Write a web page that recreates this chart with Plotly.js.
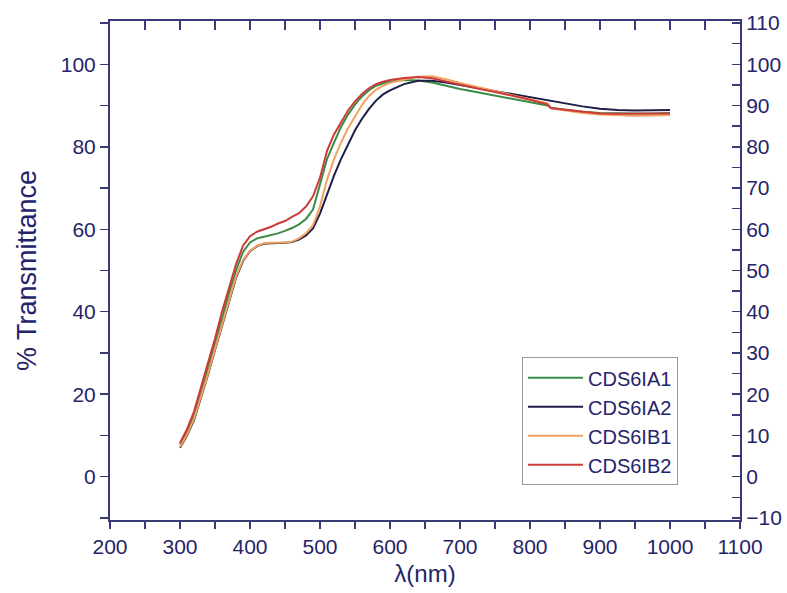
<!DOCTYPE html>
<html>
<head>
<meta charset="utf-8">
<script src="https://cdn.plot.ly/plotly-3.0.1.min.js"></script>
<style>html,body{margin:0;padding:0;background:#fff;}#chart{width:787px;height:593px;}</style>
</head>
<body>
<div id="chart"></div>
<script>
const wavelength = [300,310,320,330,340,350,360,370,380,390,400,410,420,430,440,450,460,470,480,490,500,510,520,530,540,550,560,570,580,590,600,620,640,660,680,700,725,750,775,800,825,830,850,875,900,925,950,975,1000];

const CDS6IA1 = [7.8,11,15,20.5,26.3,32.3,38.5,44.5,50,54.5,56.8,57.8,58.2,58.6,59,59.6,60.3,61.2,62.5,64.8,71,77,81,84.8,87.8,90.2,92.2,93.7,94.8,95.4,95.8,96.2,96.1,95.6,94.8,94,93.2,92.4,91.6,90.8,90,89.4,89,88.5,88.2,88.1,88.1,88.1,88.2];

const CDS6IA2 = [7,10,13.7,19,24.7,30.7,36.7,42.7,48.2,52.3,54.7,55.9,56.5,56.6,56.6,56.7,56.9,57.5,58.5,60.2,63.8,68.5,73,77,80.5,84,86.8,89.2,91.2,92.7,93.7,95.2,96,96,95.6,95,94.2,93.5,92.7,92,91.3,91.2,90.5,89.8,89.2,88.9,88.8,88.8,88.9];

const CDS6IB1 = [7.2,10.2,14,19.3,25,31,37,43,48.5,52.5,54.8,56,56.6,56.7,56.7,56.8,57,57.8,59,61,65.5,72,77,81,84.5,87.5,90.2,92.3,93.8,94.8,95.5,96.3,97,97.1,96.4,95.5,94.5,93.5,92.6,91.6,90.5,89.3,88.8,88.2,87.8,87.6,87.5,87.6,87.7];

const CDS6IB2 = [8.2,11.5,15.8,21.5,27.5,33.5,40,46,51.5,56,58.3,59.4,60,60.6,61.4,62,63,63.9,65.5,68,72.5,79,83,86,88.8,91,92.8,94.2,95.2,95.8,96.2,96.7,96.9,96.6,95.8,95,94.1,93.3,92.4,91.4,90.3,89.4,89,88.5,88.1,88,88,88,88.1];

const seriesNames = ["CDS6IA1","CDS6IA2","CDS6IB1","CDS6IB2"];
const seriesValues = [CDS6IA1, CDS6IA2, CDS6IB1, CDS6IB2];
const seriesColors = ["#3d8a46","#1e1e48","#f2a25e","#cc3a3a"];

const axisColor = "#3a3a76";
const textColor = "#24246a";
const fontFam = "Liberation Sans, Arial, sans-serif";

const traces = seriesNames.map((n,i)=>({
  x: wavelength, y: seriesValues[i], name: n, type: "scatter", mode: "lines",
  line: {color: seriesColors[i], width: 2}
}));
// invisible trace to activate right/top axes
traces.push({x:[200], y:[0], xaxis:"x2", yaxis:"y2", mode:"markers", marker:{opacity:0}, showlegend:false, hoverinfo:"skip"});

const layout = {
  width: 787, height: 593,
  margin: {l:110, r:47, t:21, b:73},
  paper_bgcolor: "#fff", plot_bgcolor: "#fff",
  font: {family: fontFam, color: textColor, size: 21},
  showlegend: true,
  legend: {x:0.654, y:0.326, xanchor:"left", yanchor:"top", bordercolor:"#9a9a9a", borderwidth:1,
           bgcolor:"rgba(255,255,255,0)", font:{size:20, color:textColor}, itemwidth:55, tracegroupgap:0},
  xaxis: {range:[200,1100], dtick:100, tick0:200, ticks:"outside", ticklen:7, tickwidth:1.5, tickcolor:axisColor,
          showline:true, linecolor:axisColor, linewidth:2, showgrid:false, zeroline:false,
          minor:{dtick:50, ticks:"outside", ticklen:7, tickwidth:1.5, tickcolor:axisColor},
          tickfont:{size:21, color:textColor},
          title:{text:"λ(nm)", font:{size:24, color:textColor}, standoff:8}},
  yaxis: {range:[-10.5,110.5], dtick:20, tick0:0, ticks:"outside", ticklen:8, tickwidth:1.5, tickcolor:axisColor,
          showline:true, linecolor:axisColor, linewidth:2, showgrid:false, zeroline:false,
          minor:{dtick:10, ticks:"outside", ticklen:8, tickwidth:1.5, tickcolor:axisColor},
          tickfont:{size:21, color:textColor},
          title:{text:"% Transmittance", font:{size:27, color:textColor}, standoff:16}},
  xaxis2: {overlaying:"x", side:"top", range:[200,1100], dtick:50, tick0:200, ticks:"inside", ticklen:9, tickwidth:1.5,
           tickcolor:axisColor, showline:true, linecolor:axisColor, linewidth:2, showticklabels:false,
           showgrid:false, zeroline:false},
  yaxis2: {overlaying:"y", side:"right", range:[-10.5,110.5], dtick:10, tick0:0, ticks:"inside", ticklen:8, tickwidth:1.5,
           tickcolor:axisColor, showline:true, linecolor:axisColor, linewidth:2, showgrid:false, zeroline:false,
           minor:{dtick:5, ticks:"inside", ticklen:8, tickwidth:1.5, tickcolor:axisColor},
           tickfont:{size:21, color:textColor}}
};

Plotly.newPlot("chart", traces, layout, {displayModeBar:false, staticPlot:true});
</script>
</body>
</html>
